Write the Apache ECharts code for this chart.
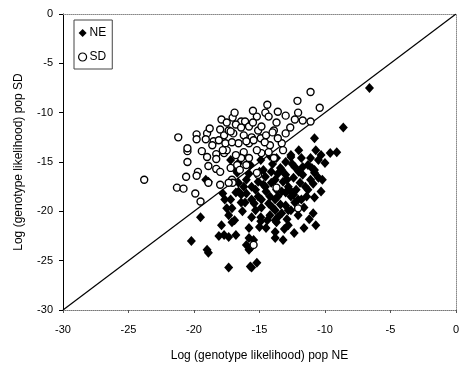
<!DOCTYPE html>
<html><head><meta charset="utf-8">
<script src="https://cdn.jsdelivr.net/npm/echarts@6/dist/echarts.min.js"></script>
<style>html,body{margin:0;padding:0;background:#fff}#c{width:462px;height:368px}</style>
</head><body><div id="c"></div>
<script>
var xTicks = [-30, -25, -20, -15, -10, -5, 0];
var yTicks = [0, -5, -10, -15, -20, -25, -30];
var xLabel = 'Log (genotype likelihood) pop NE';
var yLabel = 'Log (genotype likelihood) pop SD';
var seriesNames = ['NE', 'SD'];
var diagLine = [[-30, -30], [0, 0]];

var neX = [-6.6,-10.8,-8.6,-9.6,-10.3,-11.1,-12.6,-11.7,-10.8,-10.5,-11.3,-11.8,-12.8,-13.3,-13.8,-14.55,-15.1,-15.6,-16.0,-16.6,-16.8,-16.1,-15.3,-14.85,-13.8,-13.3,-13.8,-12.8,-12.3,-17.5,-17.35,-15.8,-17.1,-17.9,-18.1,-17.35,-19.5,-19.0,-18.9,-20.2,-17.35,-15.8,-16.0,-15.8,-15.7,-15.2,-13.8,-13.8,-18.9,-16.7,-16.6,-17.2,-19.1,-14.9,-13.7,-15.6,-15.45,-15.6,-16.8,-17.7,-12.6,-11.8,-11.3,-12.3,-13.0,-13.4,-14.1,-14.55,-15.1,-16.2,-16.6,-15.3,-14.1,-13.2,-12.4,-11.9,-11.4,-12.05,-12.6,-13.0,-13.6,-14.2,-14.85,-15.6,-16.4,-17.1,-13.8,-13.0,-12.6,-12.05,-13.6,-14.2,-15.6,-14.9,-10.3,-10.8,-10.8,-17.2,-16.8,-15.7,-14.9,-14.5,-13.7,-12.7,-12.2,-14.7,-13.0,-11.7,-11.1,-14.3,-13.4,-16.4,-17.65,-10.5,-10.0,-9.1,-10.9,-10.7,-11.6,-12.8,-12.35,-14.5,-13.2,
  -15.0,-14.0,-13.6,-12.9,-12.0,-11.5,-12.4,-13.3,-14.7,-15.4,-16.0,-14.0,-12.9,-11.6,-10.9,-11.0,-12.5,-13.7,-15.8,-16.3,-14.4,-13.1,-11.2,-10.2,-15.0,-16.9,-17.8,-14.2,-12.0,-10.7];
var neY = [-7.5,-12.6,-11.5,-14.1,-14.3,-14.6,-14.5,-15.5,-16.1,-16.6,-17.8,-18.8,-17.5,-15.8,-16.8,-17.5,-18.5,-17.5,-16.8,-17.1,-18.1,-19.1,-19.9,-19.6,-18.8,-20.2,-20.9,-19.9,-19.1,-19.7,-20.4,-21.7,-21.1,-21.4,-22.5,-22.6,-20.6,-23.9,-24.2,-23.0,-25.7,-22.7,-23.4,-23.9,-25.6,-25.2,-22.1,-22.7,-17.0,-16.1,-15.1,-14.8,-16.8,-21.0,-21.1,-23.6,-22.9,-25.7,-22.4,-22.4,-14.3,-14.6,-15.3,-15.5,-15.0,-15.6,-16.0,-16.5,-17.0,-17.5,-18.0,-17.8,-17.1,-17.0,-16.6,-17.1,-18.5,-18.8,-18.5,-18.1,-18.5,-18.5,-18.8,-18.8,-19.1,-19.7,-19.9,-19.4,-19.9,-20.4,-20.6,-20.4,-20.6,-20.6,-18.0,-18.6,-15.8,-18.8,-15.8,-15.3,-14.8,-18.0,-17.8,-17.8,-17.8,-15.8,-16.3,-16.3,-16.8,-19.2,-19.3,-18.3,-18.8,-14.8,-15.1,-14.0,-20.2,-21.4,-21.7,-21.4,-22.2,-21.7,-22.9,
  -16.0,-15.2,-16.2,-16.8,-16.0,-17.5,-18.3,-18.0,-17.3,-19.2,-18.2,-19.6,-20.8,-19.6,-17.2,-15.6,-15.2,-14.6,-16.2,-20.0,-20.9,-21.8,-20.8,-16.8,-21.6,-20.9,-18.2,-14.4,-13.8,-13.8];

var sdX = [-23.8,-20.5,-20.5,-20.6,-21.3,-20.8,-19.9,-19.5,-19.7,-19.8,-18.9,-18.3,-18.0,-18.9,-18.0,-18.3,-17.7,-18.3,-21.2,-20.5,-19.8,-19.8,-19.0,-19.1,-17.9,-18.0,-17.5,-18.5,-18.1,-17.7,-18.6,-17.6,-17.05,-16.4,-16.1,-15.2,-14.55,-14.4,-14.3,-13.7,-13.0,-12.1,-12.05,-12.3,-11.7,-11.1,-10.4,-11.1,-13.0,-13.3,-16.8,-16.4,-15.8,-15.5,-15.1,-17.0,-16.2,-15.6,-14.85,-14.9,-15.8,-16.6,-17.1,-16.2,-16.4,-16.8,-14.85,-16.0,-15.1,-17.1,-17.05,-13.7,-12.05,-13.9,-15.45,-15.2,-17.35,-17.2,-17.35,-15.45,-14.5,-14.2,-17.5,-13.9,-13.6,-12.65,-15.2,-14.3,-16.7,-15.8,-13.2,
  -18.8,-17.2,-16.0,-14.6,-17.8,-19.4,-16.9,-15.5,-13.6,-16.5,-19.0,-14.0];
var sdY = [-16.8,-13.9,-15.0,-16.5,-17.6,-17.7,-18.2,-19.0,-16.0,-16.4,-15.4,-15.7,-16.0,-17.1,-17.3,-14.2,-14.1,-14.7,-12.5,-13.6,-12.2,-12.7,-12.1,-12.7,-10.7,-11.7,-11.0,-12.9,-12.8,-12.3,-13.3,-13.1,-10.5,-10.9,-10.9,-10.4,-10.0,-9.2,-10.4,-11.0,-10.3,-8.8,-10.0,-10.7,-10.8,-7.9,-9.5,-10.9,-12.1,-13.1,-11.2,-11.5,-11.4,-11.0,-11.8,-12.1,-12.3,-12.5,-11.4,-12.6,-13.1,-13.1,-13.0,-14.0,-14.6,-14.3,-14.1,-15.3,-16.3,-16.8,-17.1,-17.6,-19.7,-14.6,-23.4,-16.1,-17.1,-15.6,-11.8,-12.8,-12.3,-13.3,-13.8,-11.8,-12.6,-11.5,-13.8,-14.0,-15.3,-14.6,-13.8,
  -11.6,-11.9,-12.9,-13.0,-13.8,-13.9,-10.0,-9.8,-9.9,-15.8,-14.5,-12.0];

function pairs(xs, ys) { var out = []; for (var i = 0; i < xs.length; i++) out.push([xs[i], ys[i]]); return out; }

var chart = echarts.init(document.getElementById('c'), null, {renderer: 'canvas'});
var font = 'Arial, "Liberation Sans", sans-serif';
chart.setOption({
  animation: false,
  backgroundColor: '#fff',
  grid: {left: 63, top: 14, right: 3, bottom: 58},
  legend: {
    orient: 'vertical', left: 74, top: 20,
    data: [
      {name: 'NE', icon: 'diamond', itemStyle: {color: '#000', borderWidth: 0}},
      {name: 'SD', icon: 'circle', itemStyle: {color: '#fff', borderColor: '#000', borderWidth: 1.2}}
    ],
    itemWidth: 8, itemHeight: 8, itemGap: 12,
    padding: [7, 6, 6, 4],
    borderColor: '#444', borderWidth: 1,
    textStyle: {fontFamily: font, fontSize: 12, color: '#000', padding: [0, 0, 0, -2]}
  },
  xAxis: [{
    type: 'value', min: xTicks[0], max: xTicks[xTicks.length - 1], interval: 5,
    name: xLabel, nameLocation: 'middle', nameGap: 40,
    nameTextStyle: {fontFamily: font, fontSize: 12, color: '#000'},
    axisLine: {onZero: false, lineStyle: {color: '#777', type: 'dotted', width: 1}},
    axisTick: {show: true, length: 3, lineStyle: {color: '#555'}},
    axisLabel: {fontFamily: font, fontSize: 11, color: '#000', margin: 14},
    splitLine: {show: false}
  }, {
    type: 'value', min: xTicks[0], max: xTicks[xTicks.length - 1], position: 'top',
    axisLine: {onZero: false, lineStyle: {color: '#888', type: 'dotted'}},
    axisTick: {show: false}, axisLabel: {show: false}, splitLine: {show: false}
  }],
  yAxis: [{
    type: 'value', min: yTicks[yTicks.length - 1], max: yTicks[0], interval: 5,
    name: yLabel, nameLocation: 'middle', nameGap: 38,
    nameTextStyle: {fontFamily: font, fontSize: 12, color: '#000'},
    axisLine: {show: true, onZero: false, lineStyle: {color: '#000', width: 1}},
    axisTick: {show: true, length: 4, lineStyle: {color: '#000'}},
    axisLabel: {fontFamily: font, fontSize: 11, color: '#000', margin: 10},
    splitLine: {show: false}
  }, {
    type: 'value', min: yTicks[yTicks.length - 1], max: yTicks[0], position: 'right',
    axisLine: {show: true, onZero: false, lineStyle: {color: '#888', type: 'dotted'}},
    axisTick: {show: false}, axisLabel: {show: false}, splitLine: {show: false}
  }],
  series: [
    {
      type: 'line', data: diagLine, symbol: 'none', silent: true,
      lineStyle: {color: '#000', width: 1.2}, z: 1
    },
    {
      name: seriesNames[0], type: 'scatter', data: pairs(neX, neY),
      symbol: 'diamond', symbolSize: [9, 10],
      itemStyle: {color: '#000', opacity: 1}, z: 2
    },
    {
      name: seriesNames[1], type: 'scatter', data: pairs(sdX, sdY),
      symbol: 'circle', symbolSize: 7,
      itemStyle: {color: '#fff', borderColor: '#000', borderWidth: 1.4, opacity: 1}, z: 3
    }
  ]
});
</script></body></html>
